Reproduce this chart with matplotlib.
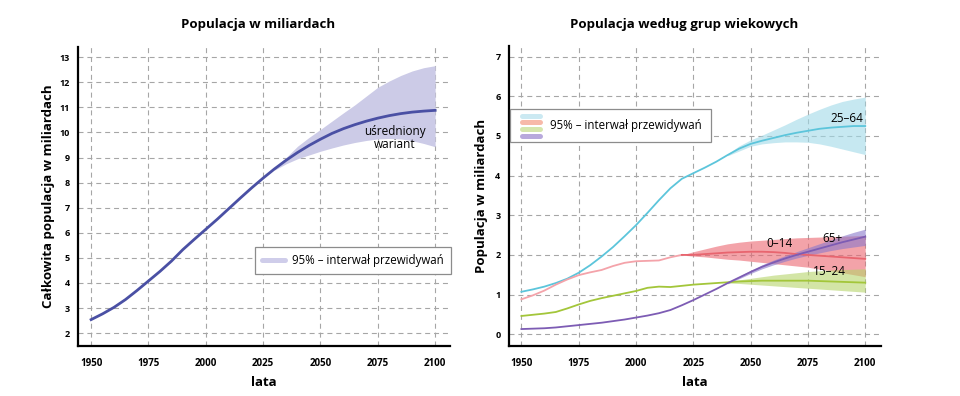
#Import packages
import numpy as np
import matplotlib.pyplot as plt
from matplotlib.lines import Line2D
from matplotlib.legend_handler import HandlerBase

plt.rcParams["font.family"] = ["Open Sans", "DejaVu Sans"]

#Years every 5 years
years = list(range(1950, 2101, 5))

#Total population (medium variant), billions
total = [2.54, 2.77, 3.03, 3.34, 3.70, 4.08, 4.46, 4.87, 5.33, 5.74, 6.14,
         6.54, 6.96, 7.38, 7.79, 8.18, 8.55, 8.89, 9.20, 9.48, 9.73, 9.96,
         10.15, 10.31, 10.45, 10.57, 10.67, 10.75, 10.81, 10.85, 10.88]
#95% interval for total population
total_band_years = list(range(2030, 2101, 5))
total_low = [8.50, 8.75, 8.95, 9.10, 9.25, 9.38, 9.50, 9.60, 9.68, 9.74,
             9.76, 9.74, 9.67, 9.56, 9.43]
total_high = [8.60, 9.00, 9.45, 9.80, 10.12, 10.45, 10.78, 11.10, 11.45,
              11.80, 12.05, 12.27, 12.45, 12.58, 12.66]

#Age groups
age_25_64 = [1.07, 1.13, 1.20, 1.29, 1.40, 1.55, 1.74, 1.96, 2.20, 2.47, 2.75,
             3.06, 3.38, 3.68, 3.92, 4.06, 4.20, 4.35, 4.52, 4.68, 4.80, 4.88,
             4.95, 5.02, 5.08, 5.13, 5.18, 5.21, 5.23, 5.25, 5.25]
age_0_14 = [0.88, 0.98, 1.10, 1.25, 1.38, 1.49, 1.56, 1.62, 1.72, 1.80, 1.84,
            1.85, 1.86, 1.94, 2.00, 2.00, 2.02, 2.04, 2.06, 2.07, 2.08, 2.08,
            2.07, 2.05, 2.02, 2.00, 1.98, 1.96, 1.94, 1.92, 1.90]
age_15_24 = [0.46, 0.49, 0.52, 0.56, 0.65, 0.75, 0.84, 0.91, 0.97, 1.03, 1.09,
             1.17, 1.20, 1.19, 1.22, 1.25, 1.27, 1.29, 1.31, 1.33, 1.34, 1.35,
             1.35, 1.35, 1.35, 1.35, 1.34, 1.33, 1.32, 1.31, 1.30]
age_65 = [0.13, 0.14, 0.15, 0.17, 0.20, 0.23, 0.26, 0.29, 0.33, 0.37, 0.42,
          0.47, 0.53, 0.61, 0.73, 0.86, 1.00, 1.14, 1.29, 1.43, 1.57, 1.70,
          1.81, 1.91, 2.00, 2.08, 2.16, 2.24, 2.32, 2.39, 2.46]

#95% intervals for age groups
band_0_14_years = list(range(2020, 2101, 5))
band_0_14_low = [2.00, 1.97, 1.95, 1.92, 1.89, 1.87, 1.84, 1.81, 1.78, 1.75,
                 1.72, 1.69, 1.64, 1.60, 1.55, 1.50, 1.45]
band_0_14_high = [2.00, 2.08, 2.15, 2.22, 2.28, 2.32, 2.35, 2.37, 2.39, 2.41,
                  2.43, 2.44, 2.45, 2.46, 2.47, 2.48, 2.49]
band_years = list(range(2040, 2101, 5))
band_25_64_low = [4.50, 4.62, 4.74, 4.80, 4.83, 4.85, 4.85, 4.84, 4.80, 4.74,
                  4.67, 4.60, 4.53]
band_25_64_high = [4.55, 4.75, 4.90, 5.02, 5.15, 5.28, 5.42, 5.55, 5.67, 5.78,
                   5.87, 5.93, 5.98]
band_15_24_low = [1.29, 1.28, 1.26, 1.24, 1.22, 1.20, 1.18, 1.16, 1.14, 1.12,
                  1.10, 1.08, 1.06]
band_15_24_high = [1.33, 1.37, 1.41, 1.45, 1.49, 1.52, 1.55, 1.58, 1.60, 1.62,
                   1.63, 1.64, 1.65]
band_65_low = [1.27, 1.40, 1.53, 1.65, 1.75, 1.84, 1.92, 1.99, 2.05, 2.11,
               2.16, 2.20, 2.24]
band_65_high = [1.31, 1.46, 1.61, 1.75, 1.87, 1.98, 2.08, 2.18, 2.28, 2.38,
                2.48, 2.57, 2.65]

xticks = [1950, 1975, 2000, 2025, 2050, 2075, 2100]
legend_text = "95% – interwał przewidywań"


#Legend handler that stacks several colour bars
class StackHandler(HandlerBase):
    def create_artists(self, legend, orig_handle, xdescent, ydescent,
                       width, height, fontsize, trans):
        n = len(orig_handle)
        step = 4.8
        #centre the stack on the text line
        mid = 0.3 * fontsize
        top = mid + step * (n - 1) / 2
        arts = []
        for i, c in enumerate(orig_handle):
            y = top - i * step
            ln = Line2D([2, width - 2], [y, y], color=c, lw=3.6,
                        solid_capstyle="round", transform=trans)
            arts.append(ln)
        return arts


def style_axes(ax, xlim, ylim, yticks):
    ax.set_xlim(xlim)
    ax.set_ylim(ylim)
    ax.set_xticks(xticks)
    ax.set_yticks(yticks)
    ax.grid(True, color="#a6a6a6", lw=0.8, linestyle=(0, (4.5, 3.5)))
    ax.set_axisbelow(True)
    for s in ["top", "right"]:
        ax.spines[s].set_visible(False)
    for s in ["left", "bottom"]:
        ax.spines[s].set_linewidth(1.6)
    ax.tick_params(length=0, labelsize=6.5, pad=6)
    ax.tick_params(axis="x", labelsize=7, pad=9)
    for t in ax.get_xticklabels() + ax.get_yticklabels():
        t.set_fontweight("bold")
    ax.set_xlabel("lata", fontsize=9.5, fontweight="bold", labelpad=5)


fig = plt.figure(figsize=(9.6, 3.96), dpi=100)
ax1 = fig.add_axes([0.0813, 0.127, 0.3875, 0.754])
ax2 = fig.add_axes([0.530, 0.127, 0.388, 0.758])

#Left panel: total population
ax1.fill_between(total_band_years, total_low, total_high, color="#cccbe7", lw=0)
ax1.plot(years, total, color="#4a50a4", lw=2.0)
style_axes(ax1, (1944.3, 2106.5), (1.5, 13.4), range(2, 14))
ax1.set_ylabel("Całkowita populacja w miliardach", fontsize=9.5,
               fontweight="bold", labelpad=3)
ax1.text(2082.5, 9.77, "uśredniony\nwariant", fontsize=8.5, ha="center",
         va="center", linespacing=1.0)
h1 = Line2D([], [], color="#cfcdea", lw=3.6, solid_capstyle="round")
leg1 = ax1.legend([h1], [legend_text], loc="upper left",
                  bbox_to_anchor=(0.476, 0.331), fontsize=8.3, fancybox=False,
                  edgecolor="#8c8c8c", framealpha=1, handlelength=2.0,
                  borderpad=0.6, handletextpad=0.6, borderaxespad=0)
leg1.get_frame().set_linewidth(0.9)

#Right panel: age groups
ax2.fill_between(band_years, band_25_64_low, band_25_64_high,
                 color="#a0dae8", alpha=0.6, lw=0)
ax2.fill_between(band_0_14_years, band_0_14_low, band_0_14_high,
                 color="#eb6671", alpha=0.6, lw=0)
ax2.fill_between(band_years, band_15_24_low, band_15_24_high,
                 color="#b6d56b", alpha=0.6, lw=0)
ax2.fill_between(band_years, band_65_low, band_65_high,
                 color="#8978cb", alpha=0.6, lw=0)

i2020 = years.index(2020)
ax2.plot(years, age_25_64, color="#5cc5db", lw=1.3)
ax2.plot(years[:i2020 + 1], age_0_14[:i2020 + 1], color="#f4a3aa", lw=1.3)
ax2.plot(years[i2020:], age_0_14[i2020:], color="#e8656f", lw=1.3)
ax2.plot(years, age_15_24, color="#a3c63a", lw=1.3)
ax2.plot(years, age_65, color="#7d5cb4", lw=1.3)
style_axes(ax2, (1944.5, 2107), (-0.29, 7.28), range(0, 8))
ax2.set_ylabel("Populacja w miliardach", fontsize=9.5, fontweight="bold",
               labelpad=5)

#Age group labels
ax2.text(2091.8, 5.44, "25–64", fontsize=8.5, ha="center", va="center")
ax2.text(2062.4, 2.29, "0–14", fontsize=8.5, ha="center", va="center")
ax2.text(2085.7, 2.42, "65+", fontsize=8.5, ha="center", va="center")
ax2.text(2084.2, 1.58, "15–24", fontsize=8.5, ha="center", va="center")

stack = ("#cbe9f2", "#f7b9a9", "#d5e6ad", "#b8a9dc")
leg2 = ax2.legend([stack], [legend_text], loc="upper left",
                  handler_map={tuple: StackHandler()},
                  bbox_to_anchor=(0.003, 0.788), fontsize=8.3, fancybox=False,
                  edgecolor="#8c8c8c", framealpha=1, handlelength=2.0,
                  borderpad=0.85, handletextpad=0.6, borderaxespad=0)
leg2.get_frame().set_linewidth(0.9)

#Titles
fig.text(258 / 960, 1 - 24.5 / 396, "Populacja w miliardach", fontsize=9.5,
         fontweight="bold", ha="center", va="center")
fig.text(684.5 / 960, 1 - 24.5 / 396, "Populacja według grup wiekowych",
         fontsize=9.5, fontweight="bold", ha="center", va="center")

fig.savefig("out.png", dpi=100)
